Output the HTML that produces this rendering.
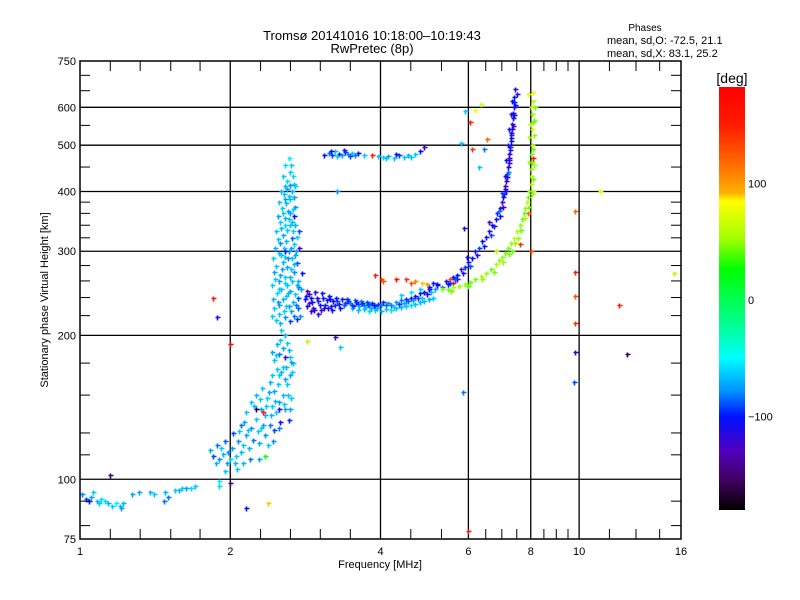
<!DOCTYPE html>
<html><head><meta charset="utf-8">
<style>
body{margin:0;background:#fff;}
svg{display:block;font-family:"Liberation Sans",sans-serif;}
</style></head>
<body>
<svg id="chart" width="800" height="600" xmlns="http://www.w3.org/2000/svg">
<defs>
<linearGradient id="cmap" x1="0" y1="0" x2="0" y2="1">
<stop offset="0" stop-color="#ff0000"/>
<stop offset="0.09" stop-color="#ff1a00"/>
<stop offset="0.18" stop-color="#ff6a00"/>
<stop offset="0.25" stop-color="#ffb000"/>
<stop offset="0.27" stop-color="#ffff00"/>
<stop offset="0.36" stop-color="#a0ff00"/>
<stop offset="0.43" stop-color="#00ff00"/>
<stop offset="0.58" stop-color="#00ffa8"/>
<stop offset="0.64" stop-color="#00ffff"/>
<stop offset="0.72" stop-color="#0090ff"/>
<stop offset="0.78" stop-color="#0010ff"/>
<stop offset="0.86" stop-color="#5000c0"/>
<stop offset="0.93" stop-color="#400060"/>
<stop offset="1" stop-color="#000000"/>
</linearGradient>
</defs>
<text x="372" y="40" font-size="13" text-anchor="middle">Tromsø 20141016 10:18:00–10:19:43</text>
<text x="372" y="53" font-size="13" text-anchor="middle">RwPretec (8p)</text>
<text x="645" y="31" font-size="10" text-anchor="middle">Phases</text>
<text x="607" y="44" font-size="11">mean, sd,O: -72.5, 21.1</text>
<text x="607" y="57" font-size="11">mean, sd,X:  83.1, 25.2</text>
<g id="grid"></g>
<g id="marks"></g>
<rect x="80" y="61" width="601" height="478" fill="none" stroke="#000" stroke-width="1.5"/>
<g id="axes"></g>
<text x="380" y="568" font-size="11" text-anchor="middle">Frequency [MHz]</text>
<text transform="translate(48,300) rotate(-90)" font-size="11" text-anchor="middle">Stationary phase Virtual Height [km]</text>
<rect x="719" y="87" width="26" height="423" fill="url(#cmap)"/>
<text x="732" y="83" font-size="14" text-anchor="middle">[deg]</text>
<g id="cbticks"></g>
</svg>
<script>
const NS="http://www.w3.org/2000/svg";
const xMajor=[1,2,4,6,8,10,16];
const xMinor=[1.15,1.32,1.52,1.74,2.3,2.64,3.03,3.48,4.6,5.3,6.5,7,7.5,8.5,9,9.5,11.5,13,14.5];
const yMajor=[75,100,200,300,400,500,600,750];
const yMinor=[80,90,112.5,125,150,175,220,240,260,280,320,340,360,380,450,550,650,700];
const cbTicks=[100,0,-100];
const traceLowE=[[1.01,93,-75],[1.03,91,-90],[1.05,92,-70],[1.06,94,-60],[1.08,90,-65],[1.09,89,-60],[1.12,90,-55],[1.14,89,-65],[1.16,88,-60],[1.18,89,-50],[1.2,88,-60],[1.22,89,-65],[1.27,93,-70],[1.31,94,-70],[1.38,94,-65],[1.41,93,-60],[1.48,94,-65],[1.5,92,-80],[1.55,95,-60],[1.58,95,-65],[1.6,96,-60],[1.63,96,-70],[1.67,96,-55],[1.7,97,-60],[1.9,99,-50],[1.9,97,-55],[1.47,90,-80],[1.15,102,-150],[1.04,90,-100],[1.1,91,-55],[1.21,87,-70]];
const traceF1=[[1.82,115,-70],[1.85,112,-90],[1.88,118,-80],[1.9,110,-75],[1.93,113,-65],[1.95,120,-85],[1.97,108,-70],[2.0,110,-60],[2.02,116,-70],[2.03,125,-90],[2.05,112,-60],[2.07,120,-75],[2.1,114,-65],[2.1,130,-80],[2.12,118,-60],[2.15,124,-70],[2.15,138,-60],[2.18,116,-65],[2.2,128,-75],[2.2,145,-60],[2.22,121,-80],[2.25,134,-60],[2.25,150,-65],[2.28,119,-70],[2.3,128,-60],[2.3,140,-70],[2.32,155,-60],[2.35,124,-75],[2.35,136,-65],[2.37,148,-60],[2.4,130,-80],[2.4,160,-65],[2.42,142,-60],[2.45,127,-90],[2.45,153,-70],[2.47,138,-60],[2.5,145,-70],[2.5,165,-60],[2.52,132,-100],[2.55,150,-65],[2.55,172,-60],[2.58,140,-70],[2.6,158,-60],[2.62,133,-95],[2.63,165,-70],[2.65,148,-60],[2.67,175,-60],[2.25,140,-165],[2.33,138,150],[2.5,140,-110],[2.35,112,30],[2.42,185,-70],[2.45,178,-60],[2.48,192,-65],[2.5,183,-80],[2.52,196,-60],[2.55,188,-70],[2.58,180,-115],[2.6,193,-60],[2.62,186,-65],[2.65,176,-70],[2.53,205,-60],[2.48,170,-60],[2.06,105,-60],[2.12,108,-65],[2.28,110,-70],[2.38,118,-60],[1.95,104,-60],
[1.87,108,-65],[1.92,116,-60],[1.98,114,-75],[2.04,108,-65],[2.08,126,-60],[2.13,132,-70],[2.17,127,-60],[2.19,110,-80],[2.23,142,-65],[2.27,126,-60],[2.29,147,-60],[2.33,130,-70],[2.36,142,-60],[2.39,152,-70],[2.41,136,-65],[2.43,165,-60],[2.44,120,-75],[2.46,146,-65],[2.49,158,-60],[2.51,128,-80],[2.53,168,-65],[2.56,144,-60],[2.57,162,-70],[2.59,172,-65],[2.61,150,-60],[2.64,140,-70],[2.66,168,-60],[2.47,182,-60],[2.57,200,-65],[2.63,180,-60]];
const traceSpike=[[2.47,215,-60],[2.52,212,-65],[2.58,218,-75],[2.63,214,-90],[2.68,220,-80],[2.72,216,-95],[2.45,228,-60],[2.5,232,-70],[2.56,225,-60],[2.62,230,-75],[2.67,235,-65],[2.73,228,-85],[2.48,245,-55],[2.53,250,-65],[2.59,242,-60],[2.64,248,-70],[2.7,244,-60],[2.74,252,-80],[2.46,262,-60],[2.52,268,-70],[2.57,258,-55],[2.63,265,-65],[2.69,272,-75],[2.47,280,-60],[2.55,285,-65],[2.6,278,-70],[2.66,290,-60],[2.72,283,-90],[2.5,298,-65],[2.56,305,-60],[2.62,300,-75],[2.68,310,-60],[2.49,318,-60],[2.55,325,-70],[2.6,332,-60],[2.66,320,-85],[2.7,340,-65],[2.52,345,-60],[2.57,352,-65],[2.63,360,-70],[2.68,355,-100],[2.54,370,-60],[2.59,378,-65],[2.64,385,-60],[2.7,372,-75],[2.56,395,-60],[2.6,405,-70],[2.66,400,-65],[2.6,420,-55],[2.64,440,-60],[2.62,470,-50],[2.68,415,-60],[2.58,300,-100],[2.75,330,-90],[2.75,305,-120],[2.78,270,-100],[2.5,222,-60],[2.55,238,-65],[2.6,255,-60],[2.65,275,-60],[2.7,295,-70],[2.58,340,-55],[2.62,350,-60],[2.51,260,-70],[2.57,292,-60],[2.73,260,-65],
[2.42,220,-60],[2.44,238,-65],[2.43,255,-60],[2.45,272,-70],[2.44,290,-60],[2.46,305,-65],[2.47,330,-60],[2.49,355,-70],[2.51,380,-60],[2.53,400,-65],[2.55,430,-60],[2.57,455,-55],[2.49,235,-75],[2.51,250,-60],[2.54,275,-70],[2.53,295,-60],[2.52,312,-75],[2.53,335,-65],[2.55,360,-60],[2.57,385,-70],[2.58,410,-65],[2.59,230,-60],[2.61,245,-65],[2.58,265,-60],[2.61,290,-75],[2.59,315,-65],[2.63,340,-60],[2.61,365,-70],[2.62,392,-60],[2.63,412,-75],[2.65,225,-70],[2.66,260,-60],[2.68,282,-65],[2.65,305,-70],[2.67,330,-60],[2.66,345,-65],[2.67,368,-60],[2.69,390,-70],[2.71,232,-80],[2.72,255,-65],[2.71,300,-70],[2.72,322,-60],[2.74,240,-90],[2.76,220,-75],[2.77,250,-70],[2.7,410,-60],[2.67,430,-55],[2.65,455,-60]];
const traceLowF=[[2.82,238,-110],[2.85,230,-105],[2.88,244,-115],[2.92,235,-100],[2.95,226,-110],[2.98,240,-120],[3.02,232,-105],[3.05,245,-100],[3.08,228,-115],[3.12,237,-105],[3.15,242,-100],[3.18,230,-110],[3.22,236,-100],[3.26,240,-105],[3.3,233,-110],[3.35,238,-100],[3.4,234,-95],[3.45,236,-100],[3.5,232,-90],[3.55,237,-85],[3.6,233,-95],[3.65,236,-80],[3.7,232,-85],[3.75,235,-90],[3.8,231,-80],[3.85,234,-95],[3.9,230,-85],[3.95,233,-90],[4.0,232,-80],[4.05,235,-95],[4.1,231,-85],[4.15,234,-75],[4.2,232,-80],[4.3,235,-75],[4.4,237,-80],[4.5,238,-95],[4.6,240,-100],[4.7,242,-110],[4.8,245,-100],[4.9,247,-105],[5.0,250,-110],[3.5,228,-60],[3.6,226,-65],[3.7,227,-60],[3.8,225,-55],[3.9,226,-60],[4.0,225,-65],[4.1,227,-60],[4.2,226,-55],[4.3,228,-60],[4.4,229,-65],[4.5,230,-60],[4.6,231,-55],[4.7,233,-60],[4.8,235,-65],[4.9,236,-60],[5.0,238,-70],[5.1,240,-60],[4.4,243,-60],[4.6,246,-55],[4.8,250,-60],[5.0,252,-100],[5.2,256,-110],[2.9,225,-120],[3.0,222,-110],[2.85,248,-130],
[2.84,242,-100],[2.87,234,-125],[2.9,240,-100],[2.93,228,-115],[2.96,246,-110],[3.0,236,-95],[3.04,226,-120],[3.07,240,-105],[3.1,232,-95],[3.14,228,-110],[3.17,238,-100],[3.2,226,-105],[3.24,232,-95],[3.28,236,-90],[3.32,228,-100],[3.38,232,-85],[3.42,238,-95],[3.48,234,-80],[3.53,230,-95],[3.58,235,-100],[3.63,230,-70],[3.68,234,-95],[3.73,229,-65],[3.78,233,-90],[3.83,228,-70],[3.88,232,-100],[3.93,228,-65],[4.25,229,-60],[4.35,233,-90],[4.45,234,-70],[4.55,236,-85],[4.65,237,-70],[4.75,239,-90],[4.85,240,-60],[4.95,244,-100],[5.05,246,-60]];
const traceOrange=[[3.9,268,150],[4.0,262,140],[4.05,260,125],[4.3,263,160],[4.5,262,140],[4.6,258,130],[4.7,260,110],[4.85,257,90],[4.95,256,100],[5.1,258,-100],[5.5,262,140],[5.6,258,160],[5.7,262,-110]];
const traceMulti=[[3.08,478,-100],[3.15,482,-80],[3.2,476,-90],[3.25,485,-60],[3.3,480,-100],[3.35,477,-70],[3.4,483,-90],[3.45,479,-75],[3.5,481,-60],[3.55,476,-80],[3.6,482,-100],[3.7,478,-60],[3.85,476,150],[3.95,474,-60],[4.05,472,-55],[4.15,475,-70],[4.25,471,-60],[4.35,476,-90],[4.45,473,-60],[4.55,478,-65],[4.7,480,-60],[4.8,486,-100],[4.9,495,-120],[3.28,400,-75],[3.32,189,-60],[3.25,198,-130],[3.18,486,-100],[3.28,475,-60],[3.38,488,-110],[3.48,474,-90],[4.1,470,-60],[4.3,480,-100],[4.6,472,-60]];
const traceO=[[5.0,250,-110],[5.2,255,-100],[5.4,260,-110],[5.6,265,-100],[5.8,275,-115],[6.0,285,-105],[6.2,300,-110],[6.4,315,-100],[6.6,330,-115],[6.8,350,-105],[6.95,370,-110],[7.05,390,-100],[7.15,420,-115],[7.2,450,-105],[7.25,480,-110],[7.3,510,-100],[7.33,540,-115],[7.36,570,-105],[7.4,600,-110],[7.42,630,-100],[7.45,655,-115],[5.3,252,-80],[5.5,258,-90],[5.7,268,-100],[5.9,278,-95],[6.1,290,-100],[6.3,305,-90],[6.5,322,-110],[6.7,340,-100],[6.85,360,-95],[7.0,380,-110],[7.1,405,-100],[7.18,435,-95],[7.23,465,-110],[7.28,495,-100],[7.31,525,-95],[7.35,555,-110],[7.38,585,-100],[7.41,615,-95],[7.08,395,-120],[7.12,410,-130],[7.25,470,-120],[7.3,530,-120],[6.9,365,-80],[7.2,440,-80],[5.95,292,-110],[6.6,345,-130],
[5.15,250,-70],[5.45,256,-100],[5.65,262,-90],[5.85,270,-110],[6.05,280,-90],[6.25,294,-110],[6.45,308,-100],[6.65,325,-90],[6.75,338,-110],[6.95,355,-100],[7.05,372,-120],[7.13,400,-110],[7.17,428,-100],[7.22,458,-120],[7.27,488,-110],[7.32,518,-100],[7.36,548,-120],[7.39,578,-110],[7.43,608,-100],[7.5,640,-110],[7.0,398,-90],[7.1,430,-110],[7.15,465,-100],[7.2,500,-110],[7.25,540,-100],[7.3,580,-110],[7.35,620,-100]];
const traceX=[[5.3,250,50],[5.6,252,55],[5.9,256,50],[6.2,262,45],[6.5,270,50],[6.8,282,55],[7.0,292,50],[7.2,305,45],[7.4,320,60],[7.6,340,50],[7.75,360,45],[7.85,380,60],[7.95,400,50],[8.0,430,55],[8.05,460,45],[8.05,500,60],[8.05,540,70],[8.05,580,50],[8.1,620,60],[8.1,645,80],[5.45,250,45],[5.75,254,50],[6.05,259,45],[6.35,266,60],[6.65,276,45],[6.9,287,50],[7.1,298,45],[7.3,312,50],[7.5,330,55],[7.7,350,45],[7.8,370,50],[7.9,390,45],[8.0,415,60],[8.02,445,50],[8.0,480,45],[7.95,520,55],[8.1,560,45],[8.0,600,60],[7.9,360,120],[8.1,470,150],[8.0,300,130],[7.6,310,140],[6.8,300,60],[7.9,640,80],[8.1,400,60],
[5.55,248,45],[6.0,254,40],[6.4,262,50],[6.75,272,45],[7.05,285,50],[7.25,296,45],[7.45,312,50],[7.65,332,45],[7.8,352,55],[7.92,372,45],[8.05,395,50],[8.1,425,45],[8.12,455,55],[8.1,490,45],[8.12,525,50],[8.12,565,45],[7.98,555,55],[7.95,460,50],[8.15,600,45],[7.55,320,50],[7.35,300,45]];
const traceStray=[[5.88,335,-110],[5.86,152,-80],[6.0,78,150],[9.8,365,120],[9.8,272,150],[9.8,242,130],[9.8,212,140],[9.8,185,-110],[9.75,160,-90],[12.0,232,150],[12.5,183,-160],[15.5,270,60],[11.0,400,70],[5.9,590,-60],[6.05,560,150],[6.2,592,80],[6.35,610,70],[1.85,240,150],[1.88,218,-110],[2.0,192,170],[2.0,98,-140],[2.38,89,90],[2.15,87,-100],[2.85,195,60],[5.8,505,-60],[6.3,450,-60],[6.45,490,-80],[6.1,490,140],[6.55,515,120]];
const traces=[traceLowE,traceF1,traceSpike,traceLowF,traceOrange,traceMulti,traceO,traceX,traceStray];
const traceNames=['low-e-trace','f1-trace','spike-trace','low-f-trace','orange-trace','multihop-trace','o-mode-trace','x-mode-trace','stray-points'];

function xs(f){return 80+150.25*Math.log2(f);}
function ys(h){return 539-478*Math.log10(h/75);}
function cby(d){return 300-1.165*d;}
const stops=[[-180,[0,0,0]],[-155,[64,0,96]],[-125,[80,0,192]],[-100,[0,16,255]],[-75,[0,144,255]],[-45,[0,255,255]],[-25,[0,255,168]],[28,[0,255,0]],[53,[160,255,0]],[85,[255,255,0]],[92,[255,176,0]],[118,[255,106,0]],[150,[255,26,0]],[183,[255,0,0]]];
function color(p){
 if(p<=stops[0][0])return 'rgb(0,0,0)';
 for(let i=1;i<stops.length;i++){if(p<=stops[i][0]){const a=stops[i-1],b=stops[i];const t=(p-a[0])/(b[0]-a[0]);const c=a[1].map((v,k)=>Math.round(v+(b[1][k]-v)*t));return 'rgb('+c.join(',')+')';}}
 return 'rgb(255,0,0)';
}
function mk(tag,attrs,parent){const e=document.createElementNS(NS,tag);for(const k in attrs)e.setAttribute(k,attrs[k]);parent.appendChild(e);return e;}
const grid=document.getElementById('grid'),axes=document.getElementById('axes'),marks=document.getElementById('marks'),cbt=document.getElementById('cbticks');
xMajor.forEach(f=>{const x=xs(f);
 if(f>1&&f<16){const l=mk('line',{x1:x,x2:x,y1:61,y2:539,stroke:'#000','stroke-width':1.3},grid);
 
 }
 const t=mk('text',{x:x,y:555,'font-size':11,'text-anchor':'middle'},axes);t.textContent=f;
 
 
});
xMinor.forEach(f=>{const x=xs(f);
 const a=mk('line',{x1:x,x2:x,y1:539,y2:529,stroke:'#000'},axes);
 
 
 const b=mk('line',{x1:x,x2:x,y1:61,y2:71,stroke:'#000'},axes);
 
 
});
yMajor.forEach(h=>{const y=ys(h);
 if(h>75&&h<750){const l=mk('line',{x1:80,x2:681,y1:y,y2:y,stroke:'#000','stroke-width':1.3},grid);
 
 }
 const t=mk('text',{x:76,y:y+4,'font-size':11,'text-anchor':'end'},axes);t.textContent=h;
 
 
});
yMinor.forEach(h=>{const y=ys(h);
 const a=mk('line',{x1:80,x2:90,y1:y,y2:y,stroke:'#000'},axes);
 
 
 const b=mk('line',{x1:671,x2:681,y1:y,y2:y,stroke:'#000'},axes);
 
 
});
cbTicks.forEach(d=>{const y=cby(d);
 const t=mk('text',{x:748,y:y+4,'font-size':11},cbt);t.textContent=d===-100?'−100':d;
 
 
});
traces.forEach((tr,i)=>{
 const g=mk('g',{},marks);
 
 
 tr.forEach(p=>{const x=Math.round(xs(p[0]))+0.5,y=Math.round(ys(p[1]))+0.5;
  const m=mk('path',{d:'M'+(x-2)+' '+y+'h5M'+x+' '+(y-2)+'v5',stroke:color(p[2]),'stroke-width':1.6,fill:'none'},g);
  
  
 });
});
</script>
</body></html>
